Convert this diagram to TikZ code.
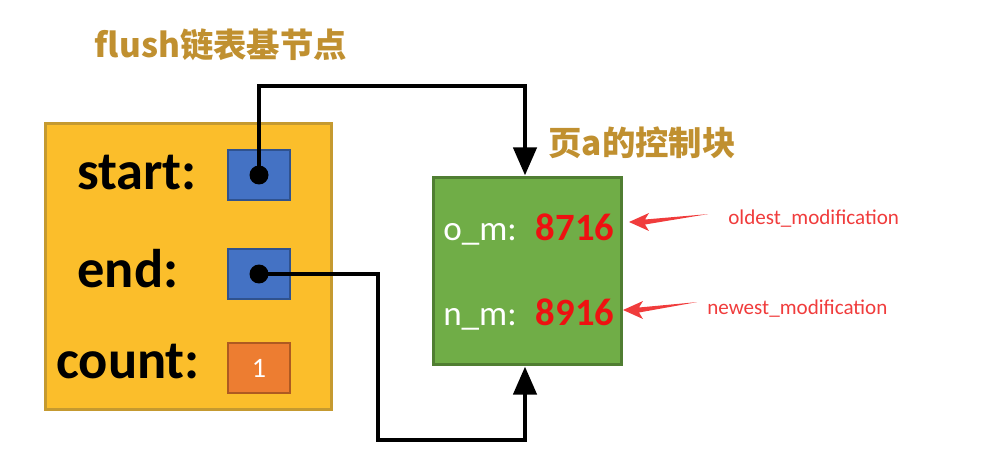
\documentclass[tikz,border=0pt]{standalone}
\usepackage{fontspec}
\setmainfont{Carlito}
\newfontfamily\cjk{Noto Sans CJK SC}
\usetikzlibrary{arrows.meta,calc}
\definecolor{cYellow}{HTML}{FBBE2B}
\definecolor{cYellowDk}{HTML}{C59A30}
\definecolor{cBlue}{HTML}{4472C4}
\definecolor{cBlueDk}{HTML}{2F528F}
\definecolor{cOrange}{HTML}{ED7D31}
\definecolor{cOrangeDk}{HTML}{AE5A21}
\definecolor{cGreen}{HTML}{70AD47}
\definecolor{cGreenDk}{HTML}{507E32}
\definecolor{cGold}{HTML}{C09030}
\definecolor{cRed}{HTML}{EE1111}
\definecolor{cRedLt}{HTML}{F03C3C}

\begin{document}
\begin{tikzpicture}[x=0.02cm,y=-0.02cm,
   title/.style={font=\cjk\fontsize{19}{19}\selectfont\bfseries,text=cGold},
   field/.style={font=\fontsize{31}{31}\selectfont\bfseries,anchor=base},
   ptr/.style={draw=cBlueDk,fill=cBlue,line width=1.2pt,minimum width=1.24cm,
               minimum height=1cm,inner sep=0pt},
   gval/.style={font=\fontsize{20}{20}\selectfont,text=white,anchor=base},
   num/.style={font=\fontsize{22}{22}\selectfont\bfseries,text=cRed,anchor=base},
   note/.style={font=\fontsize{12}{12}\selectfont,text=cRedLt,anchor=base west,
                inner sep=0pt},
   link/.style={line width=2.8pt,-{Triangle[length=16pt,width=13pt]}}]
  \useasboundingbox (0,0) rectangle (997,476);
  % flush list base node
  \node[title] (ttl1) at (221,45) {flush链表基节点};
  \node[draw=cYellowDk,fill=cYellow,line width=1.7pt,minimum width=5.74cm,
        minimum height=5.74cm] (base) at (188.5,266.5) {};
  \node[field] (lstart) at (137,190) {start:};
  \node[field] (lend)   at (128,287) {end:};
  \node[field] (lcount) at (128,378) {count:};
  \node[ptr] (sptr) at (259,175) {};
  \node[ptr] (eptr) at (259,274) {};
  \node[ptr,draw=cOrangeDk,fill=cOrange,text=white,
        font=\fontsize{16}{16}\selectfont] (cnt) at (259,368) {1};
  % control block of page a
  \node[title] (ttl2) at (642,143) {页a的控制块};
  \node[draw=cGreenDk,fill=cGreen,line width=1.7pt,minimum width=3.78cm,
        minimum height=3.76cm] (blk) at (527.5,271) {};
  \node[gval] (lom) at (480,240) {o\_m:};
  \node[num]  (om)  at (575,240) {8716};
  \node[gval] (lnm) at (480,325) {n\_m:};
  \node[num]  (nm)  at (575,325) {8916};
  % pointers
  \coordinate (top) at (525,86);
  \coordinate (bot) at (378,440);
  \draw[link] (sptr.center) |- (top) -- (blk.north -| top);
  \draw[link] (eptr.center) -| (bot) -| (blk.south -| top);
  \fill (sptr.center) circle (0.19cm);
  \fill (eptr.center) circle (0.19cm);
  % field notes
  \node[note] (old) at (728,225) {oldest\_modification};
  \node[note] (new) at (707,314) {newest\_modification};
  \coordinate (otip) at (629,222);
  \coordinate (otail) at ($(old.west)+(-20,-5)$);
  \coordinate (ntip) at (623,310);
  \coordinate (ntail) at ($(new.west)+(-10,-6)$);
  \foreach \t/\e in {otip/otail,ntip/ntail}
    \fill[cRedLt] (\t) -- ([shift={(20,-9)}]\t) -- ([shift={(16,-2.5)}]\t)
      -- (\e) -- ([shift={(16,2.5)}]\t) -- ([shift={(20,9)}]\t) -- cycle;
\end{tikzpicture}
\end{document}
